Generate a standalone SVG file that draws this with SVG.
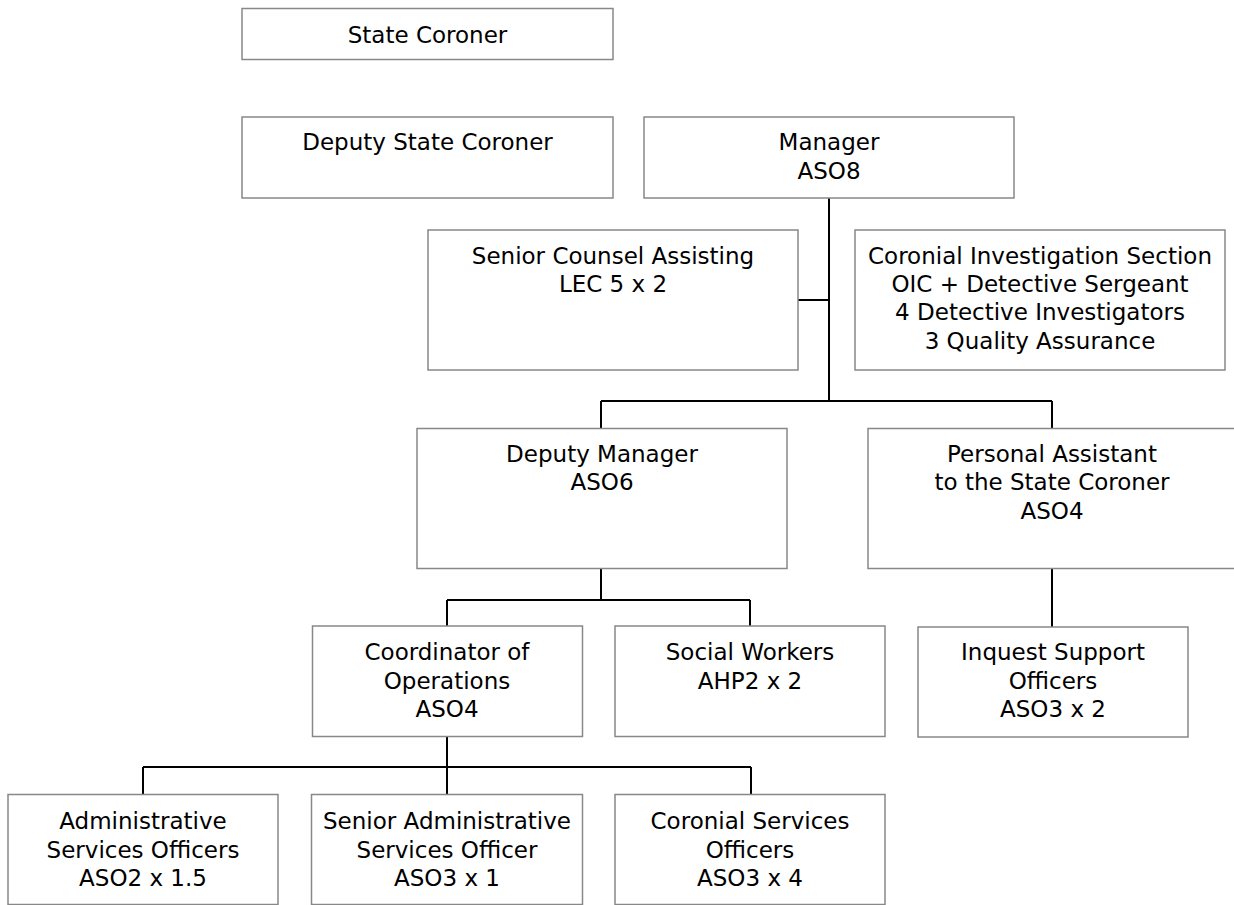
<svg xmlns="http://www.w3.org/2000/svg" width="1234" height="905" viewBox="0 0 1234 905">
<style>
.box{fill:#fff;stroke:#888;stroke-width:1.5}
.t{font-family:"DejaVu Sans",Verdana,sans-serif;font-size:23px;fill:#000;text-anchor:middle}
.c{fill:none;stroke:#000;stroke-width:2}
</style>
<rect width="1234" height="905" fill="#fff"/>
<g id="connectors">
<path class="c" d="M829 198V401M798 300H829M601 401H1052M601 401V428M1052 401V428"/>
<path class="c" d="M601 568V600M447 600H750M447 600V626M750 600V626"/>
<path class="c" d="M1052 568V627"/>
<path class="c" d="M447 737V767M143 767H751M143 767V794M447 767V794M751 767V794"/>
</g>
<g id="state-coroner"><rect class="box" x="242" y="8.5" width="371" height="51"/><text class="t" x="427.5" y="42.5">State Coroner</text></g>
<g id="deputy-state-coroner"><rect class="box" x="242" y="117" width="371" height="81"/><text class="t" x="427.5" y="150">Deputy State Coroner</text></g>
<g id="manager"><rect class="box" x="644" y="117" width="370" height="81"/><text class="t" x="829" y="150">Manager</text><text class="t" x="829" y="178.5">ASO8</text></g>
<g id="senior-counsel"><rect class="box" x="428" y="230" width="370" height="140"/><text class="t" x="613" y="263.5">Senior Counsel Assisting</text><text class="t" x="613" y="292">LEC 5 x 2</text></g>
<g id="coronial-investigation"><rect class="box" x="855" y="230" width="370" height="140"/><text class="t" x="1040" y="263.5">Coronial Investigation Section</text><text class="t" x="1040" y="292">OIC + Detective Sergeant</text><text class="t" x="1040" y="320">4 Detective Investigators</text><text class="t" x="1040" y="348.5">3 Quality Assurance</text></g>
<g id="deputy-manager"><rect class="box" x="417" y="428.5" width="370" height="140"/><text class="t" x="602" y="461.5">Deputy Manager</text><text class="t" x="602" y="490">ASO6</text></g>
<g id="personal-assistant"><rect class="box" x="868" y="428.5" width="370" height="140"/><text class="t" x="1052" y="461.5">Personal Assistant</text><text class="t" x="1052" y="490">to the State Coroner</text><text class="t" x="1052" y="518.5">ASO4</text></g>
<g id="coordinator"><rect class="box" x="312.5" y="626" width="270" height="110.5"/><text class="t" x="447" y="660">Coordinator of</text><text class="t" x="447" y="688.5">Operations</text><text class="t" x="447" y="716.5">ASO4</text></g>
<g id="social-workers"><rect class="box" x="615" y="626" width="270" height="110.5"/><text class="t" x="750" y="660">Social Workers</text><text class="t" x="750" y="688.5">AHP2 x 2</text></g>
<g id="inquest-support"><rect class="box" x="918" y="627" width="270" height="110"/><text class="t" x="1053" y="660">Inquest Support</text><text class="t" x="1053" y="688.5">Officers</text><text class="t" x="1053" y="716.5">ASO3 x 2</text></g>
<g id="admin-services"><rect class="box" x="8" y="794.5" width="270" height="110"/><text class="t" x="143" y="829">Administrative</text><text class="t" x="143" y="857.5">Services Officers</text><text class="t" x="143" y="886">ASO2 x 1.5</text></g>
<g id="senior-admin"><rect class="box" x="311.5" y="794.5" width="271" height="110"/><text class="t" x="447" y="829">Senior Administrative</text><text class="t" x="447" y="857.5">Services Officer</text><text class="t" x="447" y="886">ASO3 x 1</text></g>
<g id="coronial-services"><rect class="box" x="615" y="794.5" width="270" height="110"/><text class="t" x="750" y="829">Coronial Services</text><text class="t" x="750" y="857.5">Officers</text><text class="t" x="750" y="886">ASO3 x 4</text></g>
</svg>
